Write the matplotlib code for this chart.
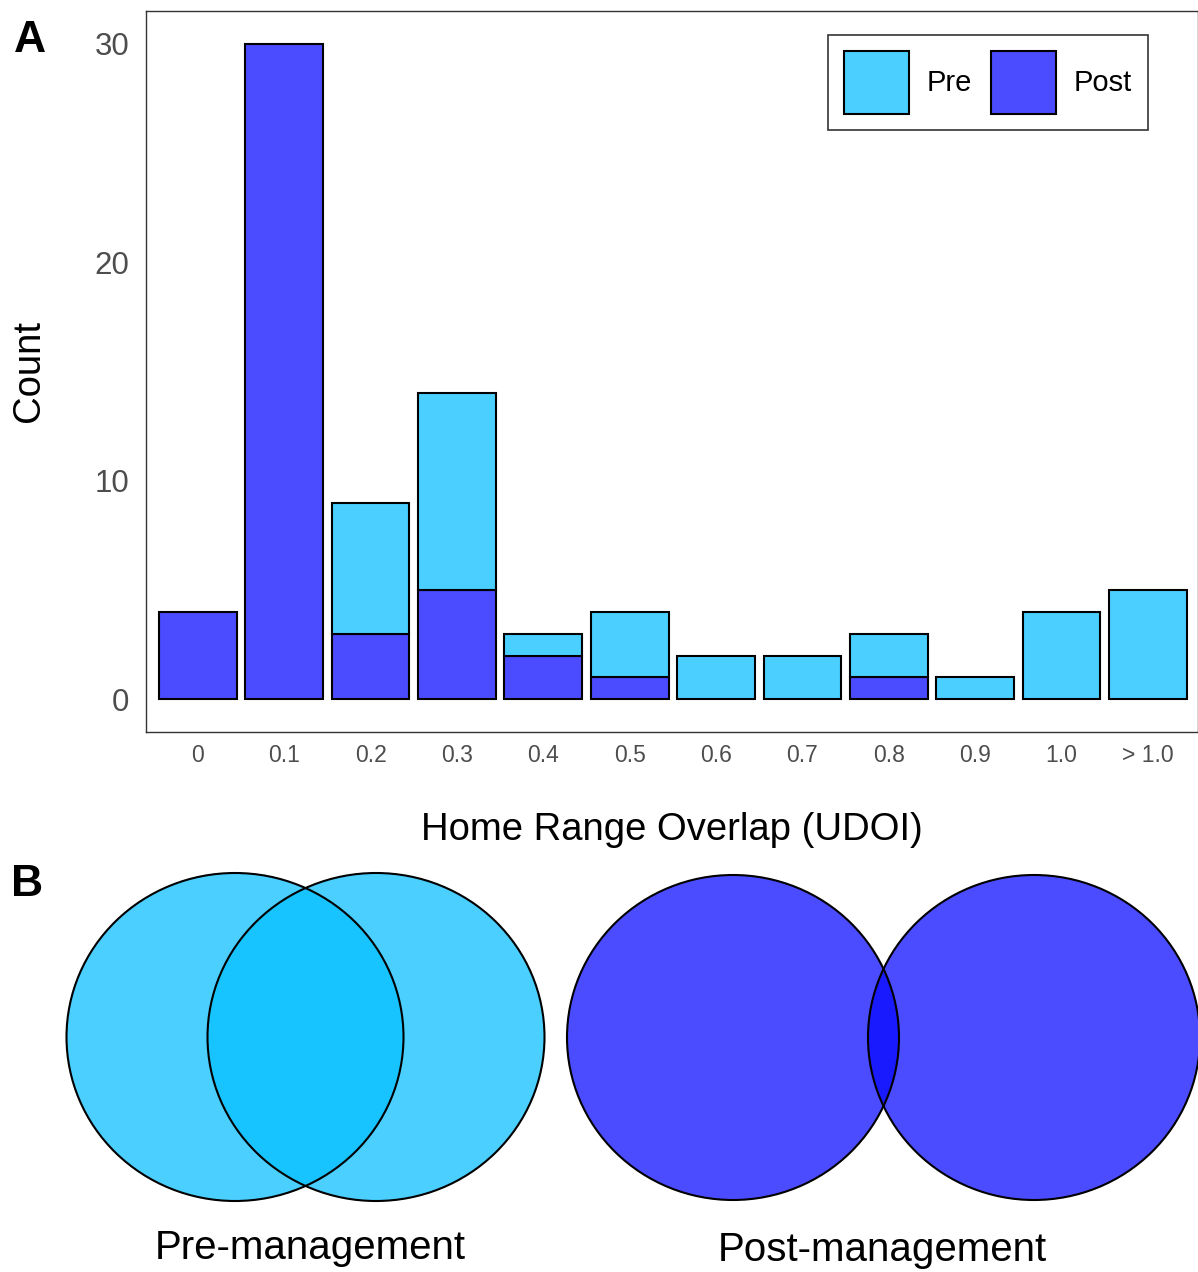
import matplotlib
matplotlib.use('Agg')
import matplotlib.pyplot as plt
from matplotlib.patches import Ellipse, Patch
import numpy as np

# ---- data ----
categories = ['0', '0.1', '0.2', '0.3', '0.4', '0.5', '0.6', '0.7', '0.8', '0.9', '1.0', '> 1.0']
post_counts = [4, 30, 3, 5, 2, 1, 0, 0, 1, 0, 0, 0]
pre_counts = [0, 0, 6, 9, 1, 3, 2, 2, 2, 1, 4, 5]
y_ticks = [0, 10, 20, 30]
series_names = ['Pre', 'Post']
venn_labels = ['Pre-management', 'Post-management']

PRE = '#4ACFFF'
PRE_LENS = '#17C4FF'
POST = '#4B4BFF'
POST_LENS = '#1A1AFF'

plt.rcParams['font.family'] = ['Liberation Sans', 'DejaVu Sans']

W, H = 1198, 1272
fig = plt.figure(figsize=(W / 100, H / 100), dpi=100)

# ---- panel B (full-figure pixel axes) ----
axb = fig.add_axes([0, 0, 1, 1], zorder=0)
axb.set_xlim(0, W)
axb.set_ylim(H, 0)
axb.axis('off')

def venn(cx1, cx2, cy, w, h, col, lens):
    e1 = Ellipse((cx1, cy), w, h, facecolor=col, edgecolor='none')
    e2 = Ellipse((cx2, cy), w, h, facecolor=col, edgecolor='none')
    axb.add_patch(e1)
    axb.add_patch(e2)
    clip = Ellipse((cx1, cy), w, h, transform=axb.transData)
    e3 = Ellipse((cx2, cy), w, h, facecolor=lens, edgecolor='none')
    axb.add_patch(e3)
    e3.set_clip_path(clip)
    for cx in (cx1, cx2):
        axb.add_patch(Ellipse((cx, cy), w, h, facecolor='none', edgecolor='black', linewidth=1.5))

venn(235, 376, 1037, 337, 328, PRE, PRE_LENS)
venn(733, 1034, 1037.5, 332, 325, POST, POST_LENS)
axb.text(310, 1248, venn_labels[0], fontsize=29, ha='center', va='center', color='black')
axb.text(882, 1250, venn_labels[1], fontsize=29, ha='center', va='center', color='black')

# ---- panel A ----
ax = fig.add_axes([146 / W, 1 - 732 / H, (1198 - 146) / W, (732 - 11) / H], zorder=1)
x = np.arange(len(categories))
post = np.array(post_counts)
pre = np.array(pre_counts)
mp = post > 0
mq = pre > 0
ax.bar(x[mp], post[mp], width=0.9, color=POST, edgecolor='black', linewidth=1.5)
ax.bar(x[mq], pre[mq], bottom=post[mq], width=0.9, color=PRE, edgecolor='black', linewidth=1.5)

ax.set_xlim(-0.6, 11.58)
ax.set_ylim(-1.5, 31.5)
ax.set_xticks(x)
ax.set_xticklabels(categories)
ax.set_yticks(y_ticks)
ax.tick_params(axis='both', length=0, colors='#4D4D4D')
ax.tick_params(axis='x', labelsize=16.5, pad=9)
ax.tick_params(axis='y', labelsize=22.5, pad=12)
for s in ax.spines.values():
    s.set_color('#333333')
    s.set_linewidth(1.0)
ax.set_xlabel('Home Range Overlap (UDOI)', fontsize=27.5, labelpad=32, color='black')
ax.set_ylabel('Count', fontsize=27.5, labelpad=34, color='black')

handles = [Patch(facecolor=PRE, edgecolor='black', linewidth=1.5),
           Patch(facecolor=POST, edgecolor='black', linewidth=1.5)]
leg = ax.legend(handles, series_names, ncol=2, loc='upper right',
                bbox_to_anchor=(1148 / W, 1 - 35 / H), bbox_transform=fig.transFigure,
                fontsize=21, frameon=True, fancybox=False, edgecolor='black',
                handlelength=2.23, handleheight=2.96, handletextpad=0.6,
                columnspacing=0.65, borderpad=0.55, borderaxespad=0)
leg.get_frame().set_linewidth(1.2)

fig.text(30 / W, 1 - 40 / H, 'A', fontsize=32, fontweight='bold', ha='center', va='center')
fig.text(27 / W, 1 - 884 / H, 'B', fontsize=32, fontweight='bold', ha='center', va='center')

fig.savefig('out.png', dpi=100)
